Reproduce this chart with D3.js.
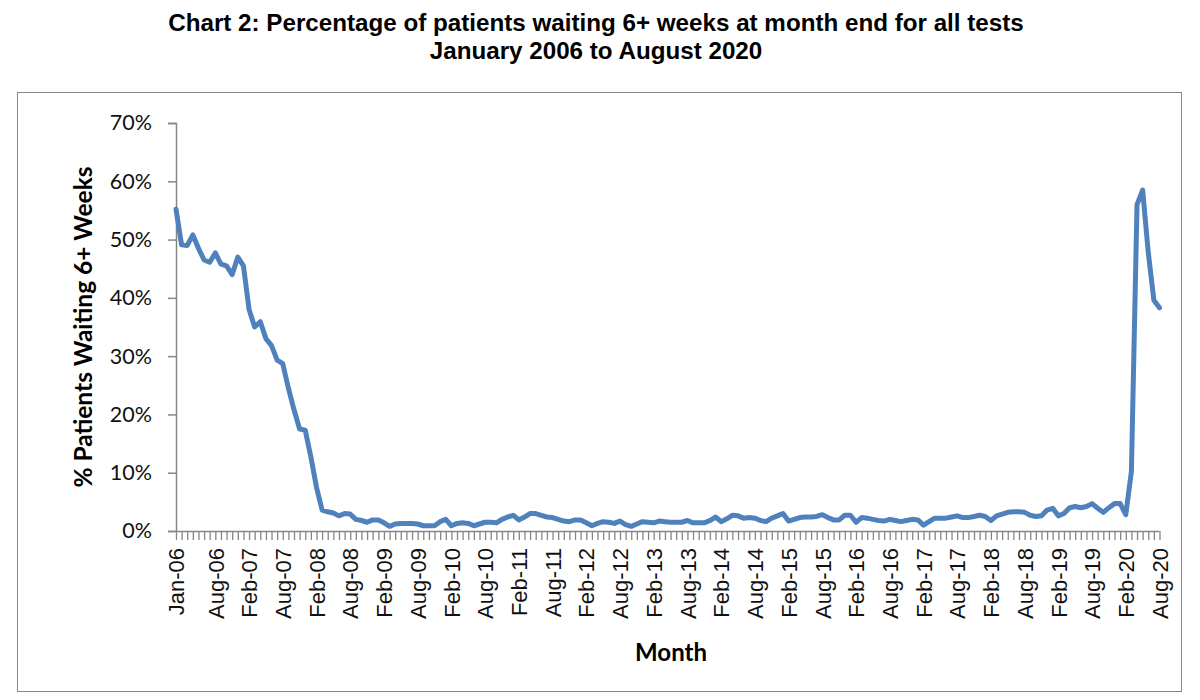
<!DOCTYPE html>
<html>
<head>
<meta charset="utf-8">
<script src="https://cdn.jsdelivr.net/npm/d3@7"></script>
<style>
  html, body { margin: 0; padding: 0; background: #fff; }
  svg { display: block; }
</style>
</head>
<body>
<svg id="chart" width="1200" height="700"></svg>
<script>
// ---- Data ----
const titleLines = ["Chart 2: Percentage of patients waiting 6+ weeks at month end for all tests",
                    "January 2006 to August 2020"];
const startMonth = "2006-01";
const endMonth = "2020-08";
// % of patients waiting 6+ weeks, Jan-06 .. Aug-20 (one value per month)
const values = [
  55.2, 49.1, 49.0, 50.8, 48.5, 46.5, 46.1, 47.7, 45.8, 45.5, 44.0, 47.0, // 2006
  45.5, 38.0, 35.0, 35.9, 33.0, 31.8, 29.3, 28.7, 24.5, 20.8, 17.5, 17.3, // 2007
  12.7, 7.5, 3.6, 3.3, 3.1, 2.6, 3.0, 2.9, 2.0, 1.8, 1.5, 1.9,            // 2008
  1.9, 1.4, 0.8, 1.2, 1.3, 1.3, 1.3, 1.2, 0.9, 0.9, 0.9, 1.6,             // 2009
  2.0, 0.9, 1.3, 1.4, 1.3, 0.9, 1.2, 1.5, 1.5, 1.4, 2.0, 2.4,             // 2010
  2.7, 1.9, 2.4, 3.0, 3.0, 2.7, 2.4, 2.3, 2.0, 1.7, 1.6, 1.9,             // 2011
  1.9, 1.4, 0.9, 1.3, 1.6, 1.5, 1.3, 1.7, 1.1, 0.8, 1.2, 1.6,             // 2012
  1.5, 1.4, 1.7, 1.6, 1.5, 1.5, 1.5, 1.8, 1.4, 1.4, 1.4, 1.8,             // 2013
  2.4, 1.6, 2.1, 2.7, 2.6, 2.2, 2.3, 2.2, 1.8, 1.6, 2.2, 2.6,             // 2014
  3.0, 1.7, 2.0, 2.3, 2.4, 2.4, 2.5, 2.8, 2.3, 1.9, 1.9, 2.7,             // 2015
  2.7, 1.5, 2.3, 2.2, 2.0, 1.8, 1.7, 2.0, 1.8, 1.6, 1.8, 2.0,             // 2016
  1.9, 1.0, 1.6, 2.2, 2.2, 2.2, 2.4, 2.6, 2.3, 2.3, 2.5, 2.7,             // 2017
  2.5, 1.8, 2.6, 2.9, 3.2, 3.3, 3.3, 3.2, 2.7, 2.5, 2.6, 3.6,             // 2018
  3.9, 2.6, 3.0, 4.0, 4.2, 4.0, 4.2, 4.7, 3.9, 3.2, 4.0, 4.7,             // 2019
  4.7, 2.8, 10.2, 56.0, 58.5, 47.8, 39.6, 38.3                            // 2020
];
const tickLabels = ["Jan-06","Aug-06","Feb-07","Aug-07","Feb-08","Aug-08","Feb-09","Aug-09",
  "Feb-10","Aug-10","Feb-11","Aug-11","Feb-12","Aug-12","Feb-13","Aug-13","Feb-14","Aug-14",
  "Feb-15","Aug-15","Feb-16","Aug-16","Feb-17","Aug-17","Feb-18","Aug-18","Feb-19","Aug-19",
  "Feb-20","Aug-20"];
const yTicks = [0, 10, 20, 30, 40, 50, 60, 70];
const yTitle = "% Patients Waiting 6+ Weeks";
const xTitle = "Month";

// ---- Build categories ----
const fmt = d3.timeFormat("%b-%y");
const parseM = d3.timeParse("%Y-%m");
const months = d3.timeMonth.range(parseM(startMonth), d3.timeMonth.offset(parseM(endMonth), 1)).map(fmt);
const data = months.map((m, i) => ({ m, v: values[i] }));

// ---- Layout ----
const svg = d3.select("#chart");
const plotLeft = 176, plotRight = 1159.5, plotTop = 123, plotBottom = 531;
const axisColor = "#868686";
const lineColor = "#4F81BD";

svg.append("rect").attr("x", 17.5).attr("y", 92.5).attr("width", 1164).attr("height", 599)
  .attr("fill", "none").attr("stroke", axisColor).attr("stroke-width", 1);

const x = d3.scalePoint().domain(months).range([plotLeft, plotRight]);
const y = d3.scaleLinear().domain([0, 70]).range([plotBottom, plotTop]);

// Title
svg.append("g").selectAll("text").data(titleLines).join("text")
  .attr("x", 596).attr("y", (d, i) => 31 + i * 28)
  .attr("text-anchor", "middle")
  .attr("font-family", "Liberation Sans, Arial, sans-serif")
  .attr("font-weight", "bold").attr("font-size", 24.2)
  .attr("fill", "#000").text(d => d);

// Y axis
const yAxis = svg.append("g").attr("transform", `translate(${plotLeft},0)`)
  .call(d3.axisLeft(y).tickValues(yTicks).tickFormat(d => d + "%").tickSize(8).tickPadding(16));
yAxis.select(".domain").attr("stroke", axisColor).attr("stroke-width", 1.5);
yAxis.selectAll(".tick line").attr("stroke", axisColor).attr("stroke-width", 1.5);
yAxis.selectAll(".tick text").attr("font-family", "Lato, sans-serif").attr("font-size", 21.5).attr("fill", "#111");

// X axis
const xAxis = svg.append("g").attr("transform", `translate(0,${plotBottom})`)
  .call(d3.axisBottom(x).tickSize(9).tickFormat(d => tickLabels.includes(d) ? d : "").tickPadding(4));
xAxis.select(".domain").attr("stroke", axisColor).attr("stroke-width", 1.5).attr("d", `M${plotLeft},0.5H${plotRight}`);
xAxis.selectAll(".tick line").attr("stroke", axisColor).attr("stroke-width", 1.3);
xAxis.selectAll(".tick text")
  .attr("font-family", "Liberation Sans, Arial, sans-serif").attr("font-size", 22).attr("fill", "#111")
  .attr("text-anchor", "end").attr("dy", "0.35em")
  .attr("transform", "translate(0,17) rotate(-90)")
  .attr("x", 0).attr("y", 0);

// Axis titles
svg.append("text").attr("transform", "translate(92,327) rotate(-90)")
  .attr("text-anchor", "middle")
  .attr("font-family", "Lato, sans-serif").attr("font-weight", "bold").attr("font-size", 24.5)
  .attr("fill", "#000").text(yTitle);
svg.append("text").attr("x", 671).attr("y", 661)
  .attr("text-anchor", "middle")
  .attr("font-family", "Lato, sans-serif").attr("font-weight", "bold").attr("font-size", 24)
  .attr("fill", "#000").text(xTitle);

// Line
const line = d3.line().x(d => x(d.m)).y(d => y(d.v));
svg.append("path").datum(data).attr("d", line)
  .attr("fill", "none").attr("stroke", lineColor).attr("stroke-width", 5)
  .attr("stroke-linejoin", "round").attr("stroke-linecap", "round");
</script>
</body>
</html>
